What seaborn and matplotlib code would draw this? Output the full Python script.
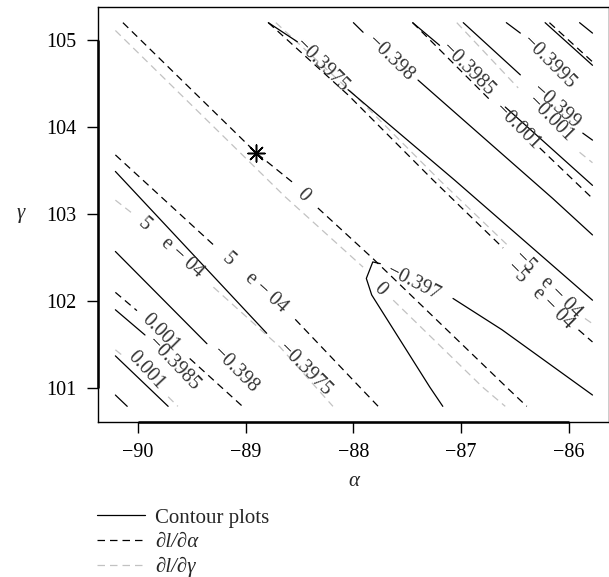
import matplotlib
matplotlib.use("Agg")
import matplotlib.pyplot as plt
from matplotlib.lines import Line2D
import pandas as pd
import seaborn as sns

# Solid log-likelihood contours: (level, alpha values, gamma values); each
# level is split into pieces where its inline label interrupts the line.
LOGLIK_PIECES = [
    ("-0.3995", [-90.21, -90.10], [100.92, 100.79]),
    ("-0.399", [-90.21, -89.72], [101.37, 100.79]),
    ("-0.3985", [-90.21, -89.935], [101.90, 101.61]),
    ("-0.398", [-90.21, -89.36], [102.57, 101.51]),
    ("-0.3975", [-90.21, -88.805], [103.49, 101.63]),
    ("-0.397", [-87.17, -87.29, -87.83, -87.88, -87.82, -87.75],
               [100.79, 101.01, 102.07, 102.26, 102.45, 102.43]),
    ("-0.397", [-87.075, -86.62, -85.78], [102.03, 101.67, 100.92]),
    ("-0.3975", [-88.79, -88.52], [105.20, 104.98]),
    ("-0.3975", [-88.05, -87.06, -85.78], [104.43, 103.39, 102.01]),
    ("-0.398", [-88.00, -87.91], [105.20, 105.09]),
    ("-0.398", [-87.40, -86.15, -85.78], [104.54, 103.18, 102.76]),
    ("-0.3985", [-87.45, -87.20], [105.20, 104.94]),
    ("-0.3985", [-86.59, -85.78], [104.23, 103.33]),
    ("-0.399", [-86.98, -86.45], [105.20, 104.60]),
    ("-0.399", [-85.87, -85.78], [103.93, 103.85]),
    ("-0.3995", [-86.58, -86.45], [105.20, 105.08]),
    ("-0.4", [-86.22, -85.78], [105.20, 104.71]),
    ("-0.4005", [-85.90, -85.78], [105.20, 105.08]),
]

# Zero and near-zero contours of the score dl/d(alpha)
DL_DALPHA_PIECES = [
    ("0", [-90.14, -88.90, -88.57], [105.20, 103.70, 103.37]),
    ("0", [-88.33, -87.82, -86.57, -86.39], [103.07, 102.49, 101.00, 100.79]),
    ("5e-04", [-90.21, -89.285], [103.68, 102.63]),
    ("5e-04", [-88.54, -87.94, -87.77], [101.79, 101.01, 100.79]),
    ("0.001", [-90.21, -90.01], [102.10, 101.89]),
    ("0.001", [-89.52, -89.03], [101.34, 100.79]),
    ("-5e-04", [-88.79, -88.05, -87.26, -86.61], [105.20, 104.37, 103.39, 102.61]),
    ("-5e-04", [-85.91, -85.78], [101.67, 101.53]),
    ("-0.001", [-87.45, -86.73], [105.20, 104.31]),
    ("-0.001", [-86.27, -85.78], [103.76, 103.18]),
    ("-0.0015", [-86.18, -85.78], [105.20, 104.75]),
]

# Zero and near-zero contours of the score dl/d(gamma)
DL_DGAMMA_PIECES = [
    ("0", [-90.21, -88.635, -87.91], [105.11, 103.20, 102.39]),
    ("0", [-87.63, -86.80, -86.59], [102.01, 101.01, 100.79]),
    ("5e-04", [-90.21, -90.065], [103.16, 103.02]),
    ("5e-04", [-89.30, -88.68, -88.19], [102.16, 101.47, 100.79]),
    ("0.001", [-90.21, -90.15], [101.44, 101.38]),
    ("0.001", [-89.72, -89.63], [100.90, 100.79]),
    ("-5e-04", [-88.72, -87.99, -87.20, -86.55], [105.20, 104.37, 103.39, 102.62]),
    ("-5e-04", [-85.85, -85.78], [101.80, 101.74]),
    ("-0.001", [-87.04, -86.47], [105.20, 104.45]),
    ("-0.001", [-85.90, -85.78], [103.71, 103.59]),
]

# Inline contour labels
LABEL_TEXT = ["\u22120.3985", "\u22120.398", "\u22120.3975", "\u22120.397",
              "\u22120.3975", "\u22120.398", "\u22120.3985", "\u22120.399",
              "\u22120.3995",
              "0", "5    e \u2212 04", "0.001", "\u22125   e \u2212 04", "\u22120.001",
              "0", "5    e \u2212 04", "0.001", "\u22125   e \u2212 04", "\u22120.001"]
LABEL_ALPHA = [-89.675, -89.10, -88.45, -87.44,
               -88.29, -87.66, -86.94, -86.12,
               -86.19,
               -88.47, -88.91, -89.79, -86.27, -86.48,
               -87.75, -89.69, -89.93, -86.19, -86.175]
LABEL_GAMMA = [101.28, 101.21, 101.21, 102.21,
               104.71, 104.79, 104.66, 104.24,
               104.74,
               103.22, 102.21, 101.64, 102.06, 104.00,
               102.13, 102.61, 101.20, 102.19, 104.10]
LABEL_ANGLE = [-46, -45, -45, -27,
               -45, -44, -45, -42,
               -45,
               -45, -42, -45, -45, -45,
               -45, -42, -47, -45, -45]

# Maximum-likelihood estimate
MLE_ALPHA = -88.90
MLE_GAMMA = 103.70

XTICKS = [-90, -89, -88, -87, -86]
YTICKS = [101, 102, 103, 104, 105]
XLIM = (-90.376, -85.624)
YLIM = (100.61, 105.38)

LEGEND_LABELS = ["Contour plots", "\u2202l/\u2202\u03b1", "\u2202l/\u2202\u03b3"]

sns.set_style("ticks")
plt.rcParams["font.family"] = ["Liberation Serif", "DejaVu Serif"]
plt.rcParams["axes.unicode_minus"] = True

rows = []
for fam, pieces in (("dg", DL_DGAMMA_PIECES), ("da", DL_DALPHA_PIECES),
                    ("lik", LOGLIK_PIECES)):
    for i, (lev, a_vals, g_vals) in enumerate(pieces):
        for k, (a, g) in enumerate(zip(a_vals, g_vals)):
            rows.append({"family": fam, "piece": f"{fam}-{i}", "order": k,
                         "alpha": a, "gamma": g})
df = pd.DataFrame(rows)

W, H = 609, 577
fig = plt.figure(figsize=(W / 100, H / 100), dpi=100)
ax = fig.add_axes([97.5 / W, (H - 422) / H, (609.3 - 97.5) / W, 415 / H])

GRAY = "#c2c2c2"
sns.lineplot(data=df, x="alpha", y="gamma", hue="family", style="family",
             units="piece", estimator=None, sort=False,
             hue_order=["dg", "da", "lik"], style_order=["dg", "da", "lik"],
             palette={"dg": GRAY, "da": "black", "lik": "black"},
             dashes={"dg": (6.0, 4.0), "da": (6.0, 4.0), "lik": ""},
             linewidth=0.9, legend=False, ax=ax)

sns.scatterplot(x=[MLE_ALPHA], y=[MLE_GAMMA], marker=(8, 2, 0), s=150,
                color="black", linewidth=1.1, legend=False, ax=ax, zorder=5)

for txt, a, g, ang in zip(LABEL_TEXT, LABEL_ALPHA, LABEL_GAMMA, LABEL_ANGLE):
    ax.text(a, g, txt, rotation=ang, rotation_mode="anchor", ha="center",
            va="center", fontsize=14.5, color="#333333")

ax.set_xlim(*XLIM)
ax.set_ylim(*YLIM)
ax.set_xticks(XTICKS)
ax.set_yticks(YTICKS)
ax.tick_params(axis="both", direction="out", length=8, width=1.0, pad=7,
               labelsize=14.5, colors="black", top=False, right=False)
for sp in ax.spines.values():
    sp.set_linewidth(1.0)
    sp.set_color("black")
    sp.set_visible(True)

# heavier axis segments between the outer ticks
ax.plot([XTICKS[0], XTICKS[-1]], [YLIM[0], YLIM[0]], color="black", lw=1.8,
        clip_on=False, solid_capstyle="butt")
ax.plot([XLIM[0], XLIM[0]], [YTICKS[0], YTICKS[-1]], color="black", lw=1.8,
        clip_on=False, solid_capstyle="butt")

ax.set_xlabel("\u03b1", fontsize=15, style="italic")
ax.xaxis.set_label_coords(0.5, -60 / 415)
ax.xaxis.label.set_verticalalignment("center")
ax.set_ylabel("\u03b3", fontsize=15, style="italic", rotation=0)
ax.yaxis.set_label_coords((21 - 97.5) / 511.8, (422 - 214) / 415)
ax.yaxis.label.set_verticalalignment("center")
ax.yaxis.label.set_horizontalalignment("center")

handles = [Line2D([], [], color="black", lw=0.9),
           Line2D([], [], color="black", lw=0.9, dashes=(6.0, 4.0)),
           Line2D([], [], color=GRAY, lw=0.9, dashes=(6.0, 4.0))]
leg = fig.legend(handles, LEGEND_LABELS, loc="upper left",
                 bbox_to_anchor=(97 / W, 1 - 508 / H), frameon=False,
                 fontsize=15, handlelength=2.3, handletextpad=0.48,
                 labelspacing=0.24, borderpad=0, borderaxespad=0)
for t in leg.get_texts()[1:]:
    t.set_style("italic")

fig.savefig("out.png", dpi=100)
